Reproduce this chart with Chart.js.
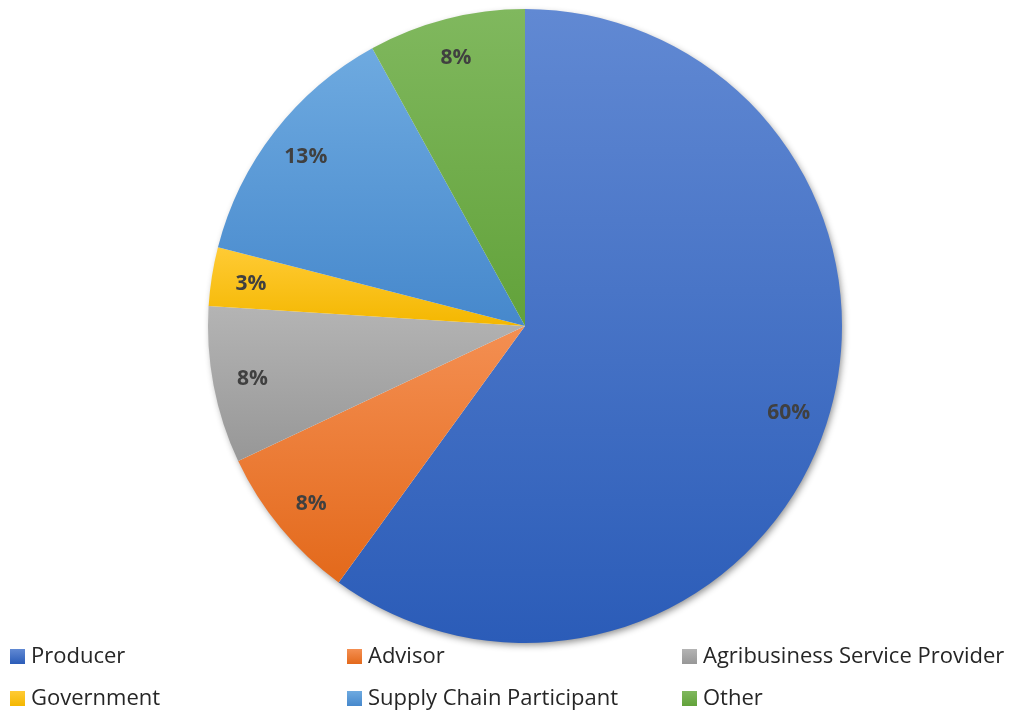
<!DOCTYPE html>
<html>
<head>
<meta charset="utf-8">
<title>Respondents by role</title>
<script src="https://cdn.jsdelivr.net/npm/chart.js@4.4.0/dist/chart.umd.min.js"></script>
<style>
    html, body { margin: 0; padding: 0; background: #ffffff; }
    #wrap { width: 1011px; height: 713px; position: relative; }
</style>
</head>
<body>
<div id="wrap"><canvas id="role-chart" width="1011" height="713"></canvas></div>
<script>
const roles = ['Producer', 'Advisor', 'Agribusiness Service Provider', 'Government', 'Supply Chain Participant', 'Other'];
const shares = [60, 8, 8, 3, 13, 8];

// light (top) and dark (bottom) stops for each slice's gradient
const topColors = ['#6189d3', '#f48f52', '#b4b4b4', '#ffcb35', '#6eaae0', '#80b85e'];
const bottomColors = ['#2b5cb8', '#e3691b', '#979797', '#f4b700', '#4688cc', '#62a23a'];

// legend grid: 3 columns, 2 rows
const legendCols = [10, 347, 682];
const legendRows = [649, 691];

function pieGeometry(chart) {
    const a = chart.chartArea;
    return {
        cx: (a.left + a.right) / 2,
        cy: (a.top + a.bottom) / 2,
        r: Math.min(a.right - a.left, a.bottom - a.top) / 2
    };
}

function sliceAngles(i) {
    const total = shares.reduce((s, v) => s + v, 0);
    let start = 0;
    for (let k = 0; k < i; k++) start += shares[k];
    return [start / total * Math.PI * 2, (start + shares[i]) / total * Math.PI * 2];
}

function sliceFill(context) {
    const chart = context.chart;
    const i = context.dataIndex;
    if (!chart.chartArea) return bottomColors[i];
    const g = pieGeometry(chart);
    const [a0, a1] = sliceAngles(i);
    // vertical extent of the wedge (angle measured clockwise from top)
    let minY = g.cy, maxY = g.cy;
    for (let n = 0; n <= 60; n++) {
        const a = a0 + (a1 - a0) * n / 60;
        const y = g.cy - g.r * Math.cos(a);
        minY = Math.min(minY, y);
        maxY = Math.max(maxY, y);
    }
    const grad = chart.ctx.createLinearGradient(0, minY, 0, maxY);
    grad.addColorStop(0, topColors[i]);
    grad.addColorStop(1, bottomColors[i]);
    return grad;
}

// soft drop shadow under the whole pie
const pieShadow = {
    id: 'pieShadow',
    beforeDatasetsDraw(chart) {
        const g = pieGeometry(chart);
        const ctx = chart.ctx;
        ctx.save();
        ctx.shadowColor = 'rgba(0,0,0,0.45)';
        ctx.shadowBlur = 7;
        ctx.shadowOffsetX = 2;
        ctx.shadowOffsetY = 3;
        ctx.fillStyle = '#ffffff';
        ctx.beginPath();
        ctx.arc(g.cx, g.cy, g.r - 1, 0, Math.PI * 2);
        ctx.fill();
        ctx.restore();
    }
};

// percentage labels inside each slice
const sliceLabels = {
    id: 'sliceLabels',
    afterDatasetsDraw(chart) {
        const ctx = chart.ctx;
        const meta = chart.getDatasetMeta(0);
        ctx.save();
        ctx.font = 'bold 21px "Open Sans"';
        ctx.fillStyle = '#404040';
        ctx.textAlign = 'center';
        ctx.textBaseline = 'middle';
        meta.data.forEach((arc, i) => {
            const mid = (arc.startAngle + arc.endAngle) / 2;
            const d = arc.outerRadius * 0.875;
            const x = arc.x + Math.cos(mid) * d;
            const y = arc.y + Math.sin(mid) * d;
            ctx.fillText(shares[i] + '%', x, y + 1);
        });
        ctx.restore();
    }
};

// two-row legend below the pie
const gridLegend = {
    id: 'gridLegend',
    afterDraw(chart) {
        const ctx = chart.ctx;
        ctx.save();
        ctx.font = '22px "Open Sans"';
        ctx.textAlign = 'left';
        ctx.textBaseline = 'middle';
        roles.forEach((name, i) => {
            const x = legendCols[i % 3];
            const y = legendRows[Math.floor(i / 3)];
            const grad = ctx.createLinearGradient(0, y, 0, y + 15);
            grad.addColorStop(0, topColors[i]);
            grad.addColorStop(1, bottomColors[i]);
            ctx.fillStyle = grad;
            ctx.fillRect(x, y, 15, 15);
            ctx.fillStyle = '#262626';
            ctx.fillText(name, x + 21, y + 8);
        });
        ctx.restore();
    }
};

new Chart(document.getElementById('role-chart'), {
    type: 'pie',
    data: {
        labels: roles,
        datasets: [{
            data: shares,
            backgroundColor: sliceFill,
            borderWidth: 0
        }]
    },
    options: {
        responsive: false,
        animation: false,
        layout: { padding: { left: 39, right: 0, top: 9, bottom: 70 } },
        plugins: {
            legend: { display: false },
            tooltip: { enabled: false }
        }
    },
    plugins: [pieShadow, sliceLabels, gridLegend]
});
</script>
</body>
</html>
